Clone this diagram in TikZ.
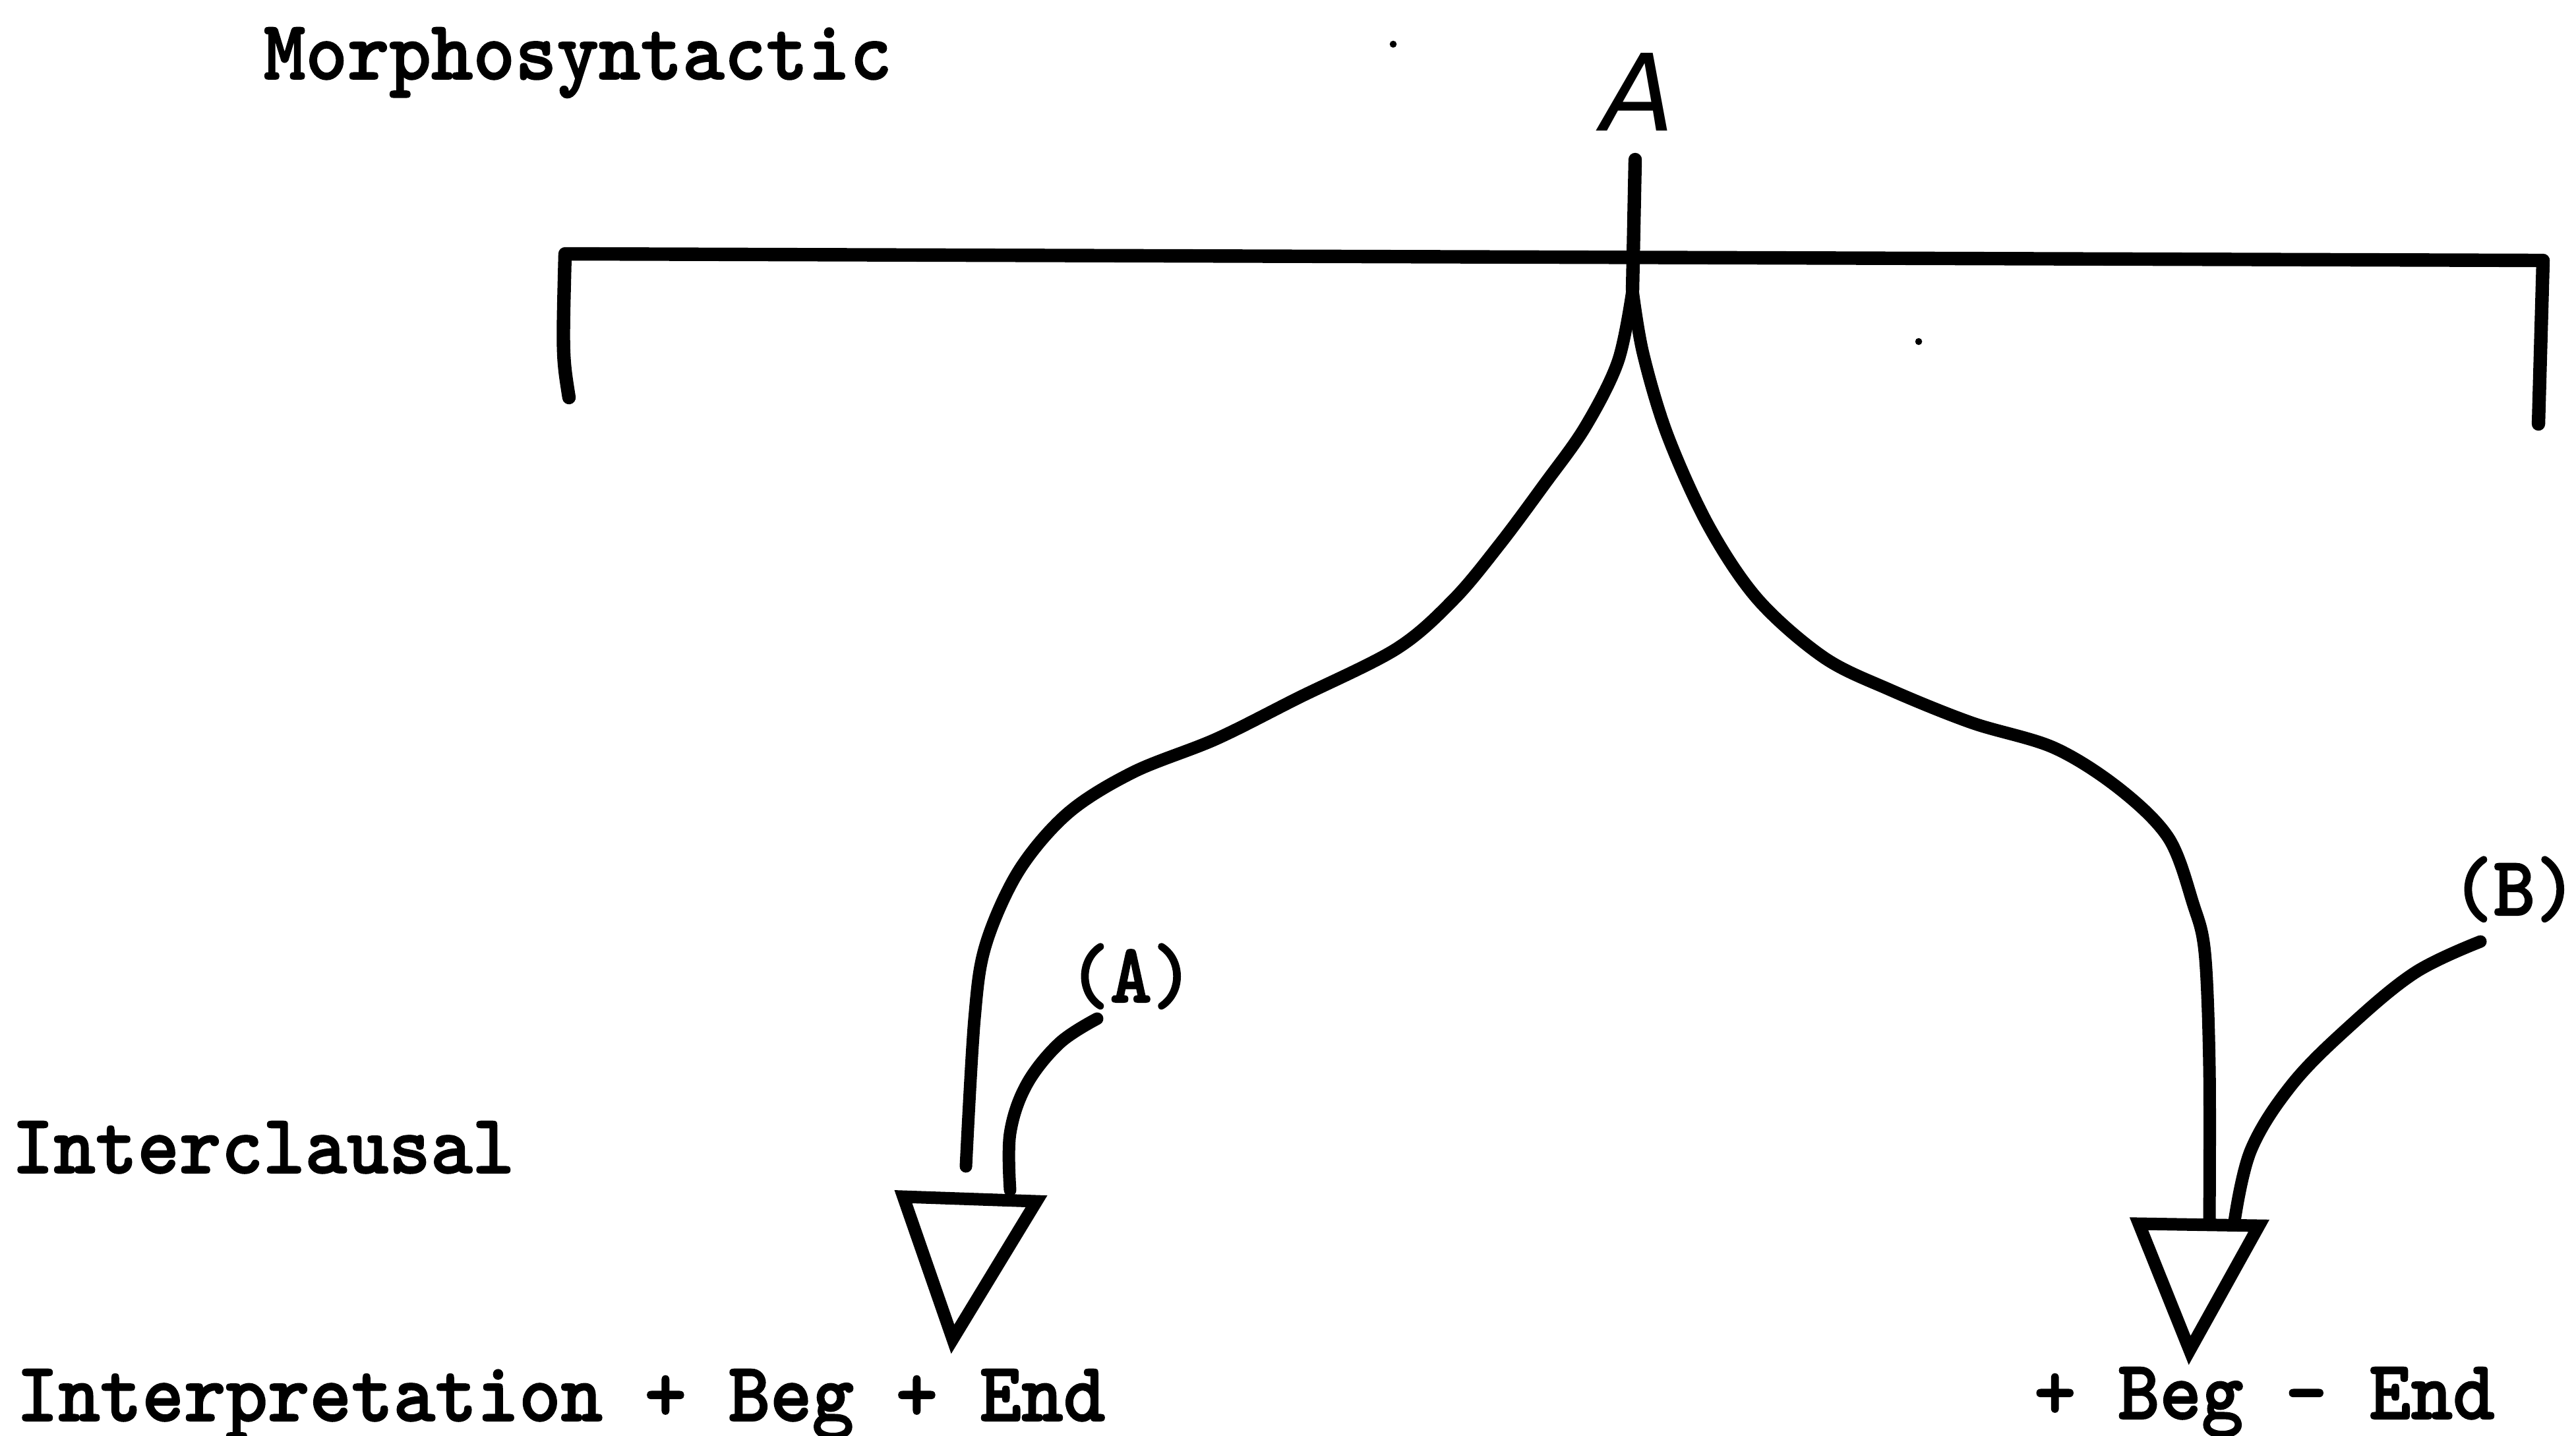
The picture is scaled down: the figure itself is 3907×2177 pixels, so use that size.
\documentclass[tikz,border=0pt]{standalone}
\usepackage{fontspec}
\usepackage{graphicx}
\newfontfamily\twfont{lmmonolt10-bold}[Extension=.otf,FakeBold=1.5]
\newfontfamily\handfont{DejaVu Sans}
\newcommand{\tw}[1]{\scalebox{1}[1.06]{\twfont\fontsize{34.4}{40}\selectfont #1}}
\begin{document}
\begin{tikzpicture}[x=0.01cm,y=-0.01cm,
  lbl/.style={inner sep=0pt,outer sep=0pt,anchor=base west},
  barline/.style={line width=5.8pt,line cap=round,line join=round},
  conn/.style={line width=5.4pt,line cap=round,line join=round},
  tri/.style={line width=5.4pt,line join=miter}]
\useasboundingbox (0,0) rectangle (3907,2177);
% texts
\node[lbl] (morph) at (400,120) {\tw{Morphosyntactic}};
\node[lbl] (inter) at (18,1779) {\tw{Interclausal}};
\node[lbl] (interp) at (25,2155) {\tw{Interpretation + Beg + End}};
\node[lbl] (begend) at (3085,2152) {\tw{+ Beg - End}};
\node[lbl] (la) at (1620,1520) {\tw{(A)}};
\node[lbl] (lb) at (3718,1388) {\tw{(B)}};
\node[inner sep=0pt] (atop) at (2485,140) {\handfont\itshape\fontsize{46}{50}\selectfont A};
% coordinates
\coordinate (stemtop) at (2480,242);
\coordinate (split) at (2476,440);
\coordinate (barL) at (857,385);
\coordinate (barR) at (3857,395);
\coordinate (legL) at (863,603);
\coordinate (legR) at (3850,643);
\coordinate (t1a) at (1370,1815);
\coordinate (t1b) at (1572,1822);
\coordinate (t1c) at (1445,2031);
\coordinate (t2a) at (3244,1856);
\coordinate (t2b) at (3426,1859);
\coordinate (t2c) at (3321,2048);
\coordinate (endL) at (1465,1769);
\coordinate (endR) at (3351,1852);
\coordinate (endA) at (1532,1805);
\coordinate (endB) at (3389,1852);
\coordinate (startA) at (1664,1545);
\coordinate (startB) at (3762,1428);
% bar and stem
\draw[barline] (legL) .. controls (853,540) .. (barL) -- (barR) -- (legR);
\draw[barline] (stemtop) -- (split);
% branches
\draw[conn] plot[smooth,tension=0.55] coordinates {(split) (2454,548) (2404,648) (2342,735) (2275,825) (2205,909) (2118,984) (1968,1059) (1844,1121) (1719,1171) (1620,1233) (1545,1321) (1495,1433) (1478,1545) (endL)};
\draw[conn] plot[smooth,tension=0.55] coordinates {(split) (2492,536) (2529,660) (2591,797) (2666,909) (2766,997) (2866,1046) (2990,1096) (3115,1134) (3214,1196) (3289,1271) (3326,1370) (3344,1445) (3351,1620) (endR)};
% label leaders
\draw[conn] plot[smooth,tension=0.6] coordinates {(startA) (1607,1582) (1557,1645) (1532,1719) (endA)};
\draw[conn] plot[smooth,tension=0.6] coordinates {(startB) (3663,1475) (3563,1557) (3476,1645) (3414,1744) (endB)};
% triangles
\draw[tri] (t1a) -- (t1b) -- (t1c) -- cycle;
\draw[tri] (t2a) -- (t2b) -- (t2c) -- cycle;
% specks
\fill (2113,67) circle (1.5pt);
\fill (2910,518) circle (1.5pt);
\end{tikzpicture}
\end{document}
